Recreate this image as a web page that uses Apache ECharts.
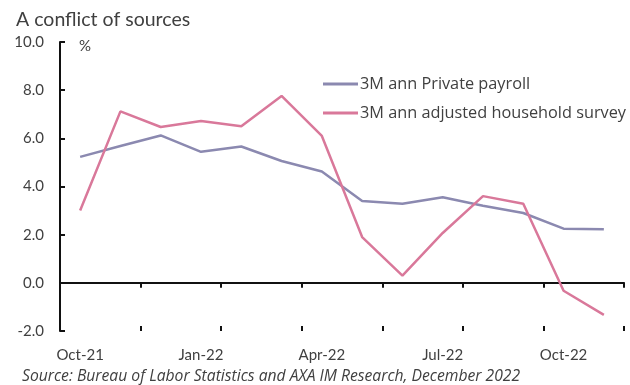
<!DOCTYPE html>
<html><head><meta charset="utf-8">
<script src="https://cdn.jsdelivr.net/npm/echarts@6/dist/echarts.min.js"></script>
<style>html,body{margin:0;padding:0;background:#fff}#c{width:630px;height:385px}</style>
</head><body><div id="c"></div>
<script>
const categories = ['Oct-21','Nov-21','Dec-21','Jan-22','Feb-22','Mar-22','Apr-22','May-22','Jun-22','Jul-22','Aug-22','Sep-22','Oct-22','Nov-22'];
const payroll = [5.23, 5.68, 6.12, 5.44, 5.66, 5.06, 4.62, 3.40, 3.28, 3.55, 3.20, 2.90, 2.25, 2.22];
const household = [3.00, 7.12, 6.47, 6.72, 6.50, 7.76, 6.10, 1.90, 0.30, 2.07, 3.60, 3.28, -0.33, -1.33];
const seriesNames = ['3M ann Private payroll', '3M ann adjusted household survey'];
const yTicks = [-2, 0, 2, 4, 6, 8, 10];

const FONT = 'Lato';
const FONT2 = 'Open Sans';
const TXT = '#404040';
const chart = echarts.init(document.getElementById('c'));
chart.setOption({
  animation: false,
  title: [
    {text: 'A conflict of sources', left: 11, top: 5, textStyle: {fontFamily: FONT, fontSize: 19.5, fontWeight: 'normal', color: TXT}},
    {text: 'Source: Bureau of Labor Statistics and AXA IM Research, December 2022', left: 17, top: 364,
     textStyle: {fontFamily: FONT2, fontSize: 15.7, fontStyle: 'italic', fontWeight: 'normal', color: TXT}}
  ],
  graphic: [{type: 'text', left: 79, top: 39, style: {text: '%', font: '15px Lato', fill: TXT}}],
  legend: {
    orient: 'vertical', left: 318, top: 71, itemGap: 13, itemWidth: 35, itemHeight: 19,
    icon: 'path://M0,0 L35,0 L35,3 L0,3 Z',
    textStyle: {fontFamily: FONT2, fontSize: 16.3, color: TXT, padding: [0, 0, 0, -3]},
    data: seriesNames
  },
  grid: {left: 60, right: 6, top: 42, bottom: 54},
  xAxis: [
    {type: 'category', data: categories, boundaryGap: true,
     axisLine: {onZero: true, lineStyle: {color: '#111', width: 2}},
     axisTick: {show: true, inside: false, length: 5, lineStyle: {color: '#111', width: 2}},
     axisLabel: {show: false}, splitLine: {show: false}},
    {type: 'category', data: categories, boundaryGap: true, position: 'bottom',
     axisLine: {onZero: true, show: false},
     axisTick: {show: true, inside: true, length: 5, lineStyle: {color: '#111', width: 2}},
     axisLabel: {show: false}, splitLine: {show: false}},
    {type: 'category', data: categories, boundaryGap: true, position: 'bottom',
     axisLine: {onZero: false, show: false}, axisTick: {show: false},
     axisLabel: {show: true, interval: 0, margin: 17, fontFamily: FONT, fontSize: 15, color: TXT,
       formatter: (v, i) => (i % 3 === 0 ? v : '')},
     splitLine: {show: false}}
  ],
  yAxis: {
    type: 'value', min: yTicks[0], max: yTicks[yTicks.length - 1], interval: 2,
    axisLine: {show: true, onZero: false, lineStyle: {color: '#111', width: 2}},
    axisTick: {show: true, inside: true, length: 5, lineStyle: {color: '#111', width: 2}},
    axisLabel: {margin: 16, fontFamily: FONT, fontSize: 15, color: TXT, formatter: v => v.toFixed(1)},
    splitLine: {show: false}
  },
  series: [
    {name: seriesNames[0], type: 'line', data: payroll, symbol: 'none', xAxisIndex: 0,
     lineStyle: {color: '#8b89b0', width: 2.5}, itemStyle: {color: '#8b89b0'}, z: 3},
    {name: seriesNames[1], type: 'line', data: household, symbol: 'none', xAxisIndex: 0,
     lineStyle: {color: '#d9789a', width: 2.5}, itemStyle: {color: '#d9789a'}, z: 4}
  ]
});
</script></body></html>
